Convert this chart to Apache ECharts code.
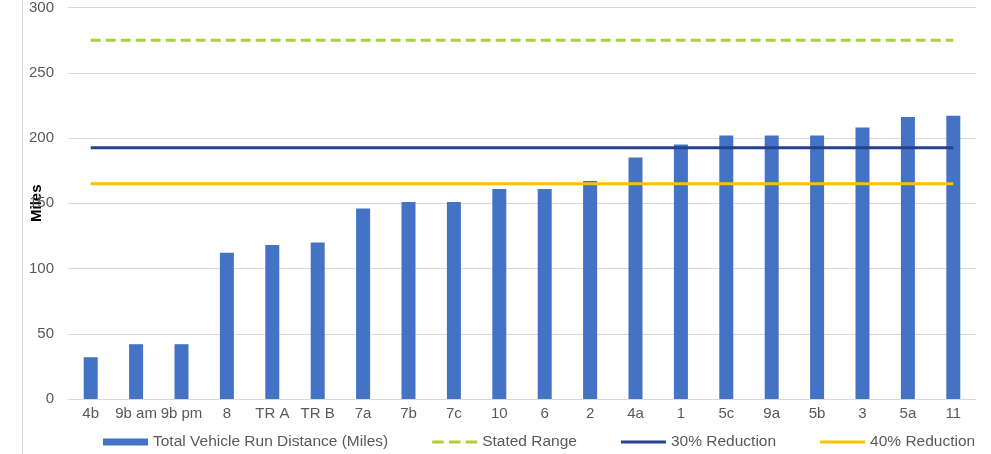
<!DOCTYPE html>
<html>
<head>
<meta charset="utf-8">
<script src="https://cdn.jsdelivr.net/npm/echarts@6/dist/echarts.min.js"></script>
<style>
  html, body { margin: 0; padding: 0; background: #ffffff; }
  #chart { width: 991px; height: 454px; }
</style>
</head>
<body>
<div id="chart"></div>
<script>
// Route names along the x axis
const categories = ['4b', '9b am', '9b pm', '8', 'TR A', 'TR B', '7a', '7b', '7c', '10',
                    '6', '2', '4a', '1', '5c', '9a', '5b', '3', '5a', '11'];

// Total run distance per vehicle route (miles)
const runDistance = [32, 42, 42, 112, 118, 120, 146, 151, 151, 161,
                     161, 167, 185, 195, 202, 202, 202, 208, 216, 217];

// Reference ranges (miles), one value per route
const statedRange = [275, 275, 275, 275, 275, 275, 275, 275, 275, 275,
                     275, 275, 275, 275, 275, 275, 275, 275, 275, 275];
const reduction30 = [192.5, 192.5, 192.5, 192.5, 192.5, 192.5, 192.5, 192.5, 192.5, 192.5,
                     192.5, 192.5, 192.5, 192.5, 192.5, 192.5, 192.5, 192.5, 192.5, 192.5];
const reduction40 = [165, 165, 165, 165, 165, 165, 165, 165, 165, 165,
                     165, 165, 165, 165, 165, 165, 165, 165, 165, 165];

// Y axis ticks
const yTicks = { min: 0, max: 300, interval: 50 };

const FONT = '"Liberation Sans", Arial, sans-serif';

// Legend glyphs: a solid stroke and a three-dash stroke
const ICON_SOLID = 'path://M0,0H45V3H0Z';
const ICON_DASHED = 'path://M0,0H11V3H0Z M16,0H27V3H16Z M32,0H43V3H32Z';

const chart = echarts.init(document.getElementById('chart'), null, { renderer: 'canvas' });

chart.setOption({
  animation: false,
  backgroundColor: '#ffffff',
  textStyle: { fontFamily: FONT },
  grid: { left: 68, right: 15, top: 7, bottom: 55, containLabel: false },
  legend: {
    left: 103,
    top: 434,
    padding: 0,
    itemWidth: 45,
    itemHeight: 7,
    itemGap: 44,
    textStyle: { fontFamily: FONT, fontSize: 15.5, color: '#595959' },
    data: [
      { name: 'Total Vehicle Run Distance (Miles)', icon: 'rect' },
      { name: 'Stated Range', icon: ICON_DASHED },
      { name: '30% Reduction', icon: ICON_SOLID },
      { name: '40% Reduction', icon: ICON_SOLID }
    ]
  },
  graphic: [
    {
      type: 'line',
      shape: { x1: 22.5, y1: 0, x2: 22.5, y2: 454 },
      style: { stroke: '#d9d9d9', lineWidth: 1 },
      silent: true
    }
  ],
  xAxis: {
    type: 'category',
    data: categories,
    axisLine: { show: true, lineStyle: { color: '#d9d9d9', width: 1 } },
    axisTick: { show: false },
    axisLabel: { color: '#595959', fontSize: 15, margin: 7, interval: 0, fontFamily: FONT },
    splitLine: { show: false }
  },
  yAxis: {
    type: 'value',
    min: yTicks.min,
    max: yTicks.max,
    interval: yTicks.interval,
    name: 'Miles',
    nameLocation: 'middle',
    nameGap: 24,
    nameRotate: 90,
    nameMoveOverlap: false,
    nameTextStyle: { color: '#000000', fontSize: 15, fontWeight: 'bold', fontFamily: FONT },
    axisLine: { show: false },
    axisTick: { show: false },
    axisLabel: { color: '#595959', fontSize: 15, margin: 14, fontFamily: FONT },
    splitLine: { lineStyle: { color: '#d9d9d9', width: 1 } }
  },
  series: [
    {
      name: 'Total Vehicle Run Distance (Miles)',
      type: 'bar',
      data: runDistance,
      barWidth: 14,
      itemStyle: { color: '#4472C4' },
      z: 2
    },
    {
      name: 'Stated Range',
      type: 'line',
      data: statedRange,
      symbol: 'none',
      lineStyle: { color: '#A9D13A', width: 3, type: [10, 5] },
      itemStyle: { color: '#A9D13A' },
      z: 3
    },
    {
      name: '30% Reduction',
      type: 'line',
      data: reduction30,
      symbol: 'none',
      lineStyle: { color: '#26418F', width: 3 },
      itemStyle: { color: '#26418F' },
      z: 3
    },
    {
      name: '40% Reduction',
      type: 'line',
      data: reduction40,
      symbol: 'none',
      lineStyle: { color: '#FFC000', width: 3 },
      itemStyle: { color: '#FFC000' },
      z: 3
    }
  ]
});
</script>
</body>
</html>
